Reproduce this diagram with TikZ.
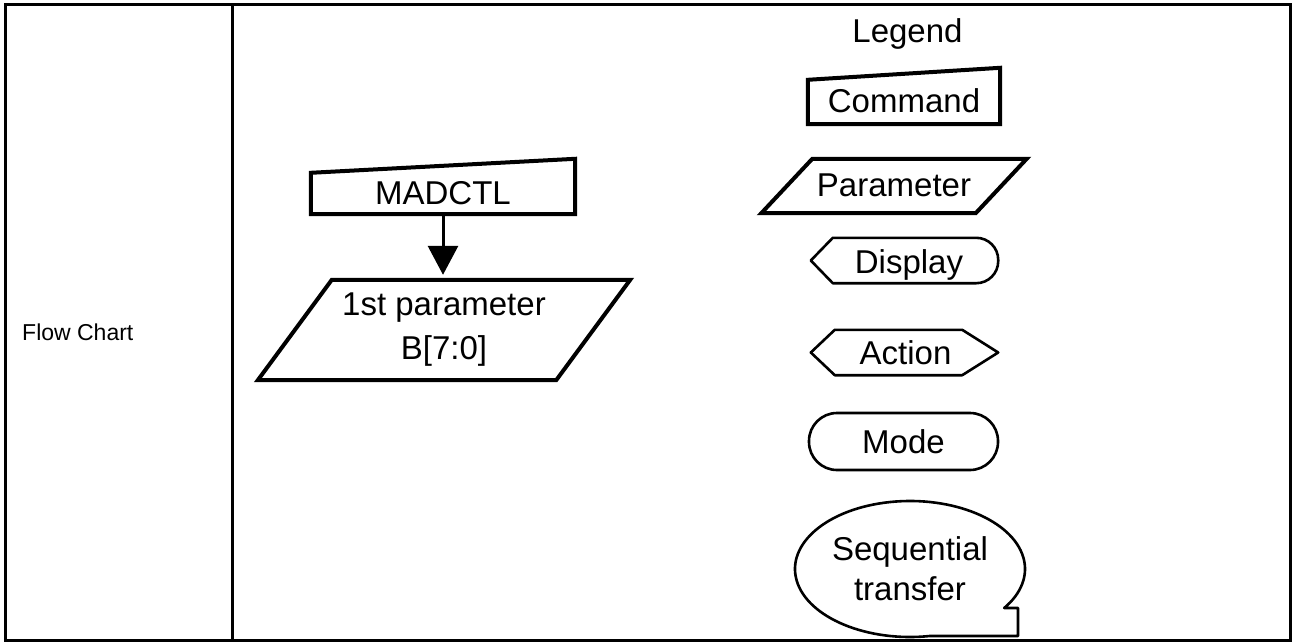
\documentclass[tikz,border=0pt]{standalone}
\usepackage{fontspec}
\setmainfont{Liberation Sans}
\usetikzlibrary{arrows.meta, calc}

\begin{document}
\begin{tikzpicture}[
  x=1pt, y=-1pt,
  frameline/.style={line width=3pt, line cap=rect},
  cmdshape/.style={draw, line width=4pt, line join=miter},
  legshape/.style={draw, line width=2.6pt, line join=round},
  body/.style={inner sep=0pt, font=\fontsize{33}{45}\selectfont, align=center},
  lift/.style={text height=#1, text depth=0pt},
  flowarrow/.style={-{Triangle[length=29pt, width=30pt]}, line width=3pt,
                    shorten >=5pt, shorten <=2pt}
]
  \useasboundingbox (0,0) rectangle (1292,642);

  %% Table frame
  \draw[frameline] (5,5) rectangle (1290,640);
  \draw[frameline] (232,5) -- (232,640);
  \node[font=\fontsize{23}{27}\selectfont, inner sep=0pt, anchor=base west] (flowlbl) at (22,340) {Flow Chart};

  %% Flow chart
  \node[body, lift=35pt, minimum width=264pt, minimum height=55pt] (madctl) at (443,186.5) {MADCTL};
  \node[body, font=\fontsize{33}{44}\selectfont, minimum width=298pt, minimum height=100pt] (par1) at (444,330) {1st parameter\\B[7:0]};

  \draw[cmdshape] ($(madctl.north west)+(0,14)$) -- (madctl.north east)
    -- (madctl.south east) -- (madctl.south west) -- cycle;
  \draw[cmdshape] ($(par1.north west)+(37,0)$) -- ($(par1.north east)+(37,0)$)
    -- ($(par1.south east)+(-37,0)$) -- ($(par1.south west)+(-37,0)$) -- cycle;

  \draw[flowarrow] (madctl.south) -- (madctl.south |- par1.north);

  %% Legend
  \node[body, anchor=base] (legend) at (907.5,43) {Legend};

  \node[body, lift=32pt, minimum width=192pt, minimum height=56pt] (cmd) at (904,96) {Command};
  \draw[cmdshape] ($(cmd.north west)+(0,12)$) -- (cmd.north east)
    -- (cmd.south east) -- (cmd.south west) -- cycle;

  \node[body, lift=21pt, minimum width=214pt, minimum height=54pt] (prm) at (894,186) {Parameter};
  \draw[cmdshape] ($(prm.north west)+(25.5,0)$) -- ($(prm.north east)+(25.5,0)$)
    -- ($(prm.south east)+(-25.5,0)$) -- ($(prm.south west)+(-25.5,0)$) -- cycle;

  \node[body, lift=25pt, minimum width=142pt, minimum height=45pt] (dsp) at (904,260.5) {\hspace*{10pt}Display};
  \draw[legshape] (dsp.south west) -- ($(dsp.west)+(-22,0)$) -- (dsp.north west) -- (dsp.north)
    [rounded corners=22pt] -- ($(dsp.north east)+(23,0)$) -- ($(dsp.south east)+(23,0)$)
    -- (dsp.south) [sharp corners] -- cycle;

  \node[body, lift=23pt, minimum width=127pt, minimum height=45pt] (act) at (898.5,352.5) {\hspace*{14pt}Action};
  \draw[legshape] ($(act.west)+(-24,0)$) -- (act.north west) -- (act.north east)
    -- ($(act.east)+(36,0)$) -- (act.south east) -- (act.south west) -- cycle;

  \node[body, legshape, rounded corners=28pt, lift=23pt, minimum width=189pt, minimum height=57pt] (mde) at (903.5,441.5) {Mode};

  \node[body, font=\fontsize{33}{40}\selectfont] (seq) at (910,569) {Sequential\\transfer};
  \draw[legshape] ($(seq.center)+(108,67)$) -- ($(seq.center)+(80:115 and 68)$)
    arc[start angle=80, end angle=395, x radius=115, y radius=68]
    -- ($(seq.center)+(108,39)$) -- cycle;
\end{tikzpicture}
\end{document}
